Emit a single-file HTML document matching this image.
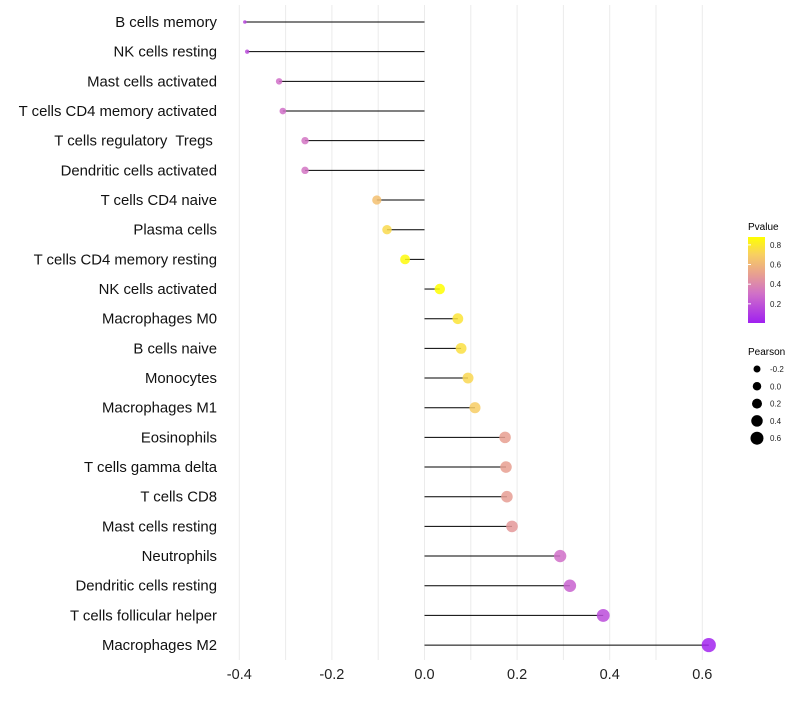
<!DOCTYPE html>
<html><head><meta charset="utf-8"><style>
body{margin:0;background:#fff}
svg text{font-family:"Liberation Sans",sans-serif;white-space:pre}
</style></head><body>
<svg id="chart" width="800" height="700" xmlns="http://www.w3.org/2000/svg">
<defs><linearGradient id="pg" x1="0" y1="1" x2="0" y2="0">
<stop offset="0" stop-color="#a020f0"/><stop offset="0.34" stop-color="#d070c8"/><stop offset="0.57" stop-color="#e8a090"/><stop offset="0.8" stop-color="#f8d060"/><stop offset="1" stop-color="#ffff00"/></linearGradient></defs>
<g id="grid"></g><g id="marks"></g><g id="ylab"></g><g id="xlab"></g>
<g id="legend">
<text x="748" y="230" font-size="10">Pvalue</text>
<rect x="748" y="237" width="17" height="86" fill="url(#pg)"/>
<g id="cbticks"></g>
<text x="748" y="355" font-size="10">Pearson</text>
<g id="sizeleg"></g>
</g>
</svg>
<script>
const categories=["B cells memory","NK cells resting","Mast cells activated","T cells CD4 memory activated","T cells regulatory  Tregs ","Dendritic cells activated","T cells CD4 naive","Plasma cells","T cells CD4 memory resting","NK cells activated","Macrophages M0","B cells naive","Monocytes","Macrophages M1","Eosinophils","T cells gamma delta","T cells CD8","Mast cells resting","Neutrophils","Dendritic cells resting","T cells follicular helper","Macrophages M2"];
const pearson=[-0.388,-0.383,-0.314,-0.306,-0.258,-0.258,-0.103,-0.081,-0.042,0.033,0.072,0.079,0.094,0.109,0.174,0.176,0.178,0.189,0.293,0.314,0.386,0.614];
const pvalue=[0.15,0.17,0.3,0.3,0.32,0.32,0.64,0.74,0.86,0.88,0.78,0.76,0.73,0.69,0.5,0.5,0.49,0.47,0.3,0.25,0.17,0.02];
const xTicks=[-0.4,-0.2,0,0.2,0.4,0.6];
const xTickLabels=["-0.4","-0.2","0.0","0.2","0.4","0.6"];
const cbTicks=[0.2,0.4,0.6,0.8];
const sizeTicks=[-0.2,0,0.2,0.4,0.6];
const NS="http://www.w3.org/2000/svg";
const X=v=>424.5+v*463;
const Y=i=>22+i*29.67;
const R=v=>1.8+5.3*Math.sqrt(Math.max(0,(v+0.388)/1.002));
const CB=p=>323-(p-0.005)/(0.875)*86;
function col(p){const t=Math.max(0,Math.min(1,(p-0.005)/0.875));
const st=[[0,[160,32,240]],[0.34,[208,112,200]],[0.57,[232,160,144]],[0.8,[248,208,96]],[1,[255,255,0]]];
for(let k=1;k<st.length;k++){if(t<=st[k][0]){const a=st[k-1],b=st[k],f=(t-a[0])/(b[0]-a[0]);
return 'rgb('+a[1].map((c,j)=>Math.round(c+(b[1][j]-c)*f)).join(',')+')';}}return 'rgb(255,255,0)';}
function mk(tag,at,parent){const e=document.createElementNS(NS,tag);for(const k in at)e.setAttribute(k,at[k]);document.getElementById(parent).appendChild(e);return e;}
for(let g=-0.4;g<=0.65;g+=0.1){const l=mk('line',{x1:X(g),x2:X(g),y1:5,y2:660,stroke:'#ebebeb','stroke-width':1},'grid');

}
xTicks.forEach((v,i)=>{const t=mk('text',{x:X(v),y:679,'font-size':14.5,'text-anchor':'middle',fill:'#222'},'xlab');t.textContent=xTickLabels[i];

});
categories.forEach((c,i)=>{const y=Y(i);
const t=mk('text',{x:217,y:y+5,'font-size':14.9,'text-anchor':'end',fill:'#111'},'ylab');t.textContent=c;


const s=mk('line',{x1:X(0),x2:X(pearson[i]),y1:y,y2:y,stroke:'#000','stroke-width':1},'marks');


const p=mk('circle',{cx:X(pearson[i]),cy:y,r:R(pearson[i]),fill:col(pvalue[i]),'fill-opacity':0.85},'marks');

});
cbTicks.forEach(v=>{const t=mk('text',{x:770,y:CB(v)+3,'font-size':8,fill:'#222'},'cbticks');t.textContent=v.toFixed(1);


const l=mk('line',{x1:748,x2:751,y1:CB(v),y2:CB(v),stroke:'#fff'},'cbticks');

});
sizeTicks.forEach((v,i)=>{const y=369+i*17.3;
const c=mk('circle',{cx:757,cy:y,r:3.5+0.75*i,fill:'#000'},'sizeleg');


const t=mk('text',{x:770,y:y+3,'font-size':8,fill:'#222'},'sizeleg');t.textContent=v.toFixed(1);

});
</script>
</body></html>
